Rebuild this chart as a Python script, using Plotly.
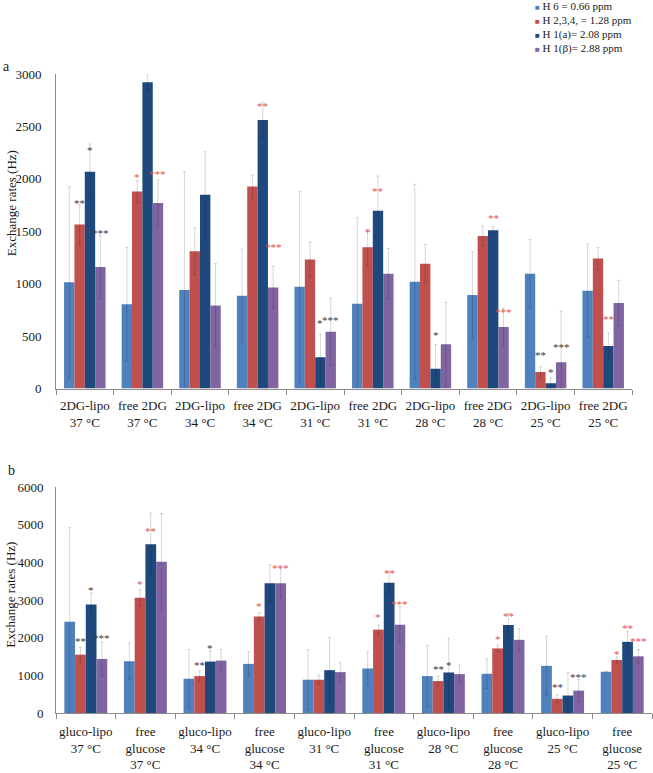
import plotly.graph_objects as go

# ---------------- data ----------------
series_names = ["H 6 = 0.66 ppm", "H 2,3,4, = 1.28 ppm", "H 1(a)= 2.08 ppm", "H 1(β)= 2.88 ppm"]
series_colors = ["#4F81BD", "#C0504D", "#1F497D", "#8064A2"]

cats_a = ["2DG-lipo<br>37 °C", "free 2DG<br>37 °C", "2DG-lipo<br>34 °C", "free 2DG<br>34 °C",
          "2DG-lipo<br>31 °C", "free 2DG<br>31 °C", "2DG-lipo<br>28 °C", "free 2DG<br>28 °C",
          "2DG-lipo<br>25 °C", "free 2DG<br>25 °C"]
h6_a = [1015, 805, 940, 886, 970, 808, 1018, 893, 1096, 933]
h6_a_err = [910, 540, 1130, 445, 910, 820, 930, 410, 325, 445]
h234_a = [1565, 1879, 1309, 1926, 1231, 1347, 1190, 1456, 157, 1240]
h234_a_err = [190, 105, 225, 110, 165, 170, 185, 95, 50, 105]
h1a_a = [2067, 2922, 1848, 2562, 298, 1697, 188, 1510, 50, 407]
h1a_a_err = [265, 80, 410, 165, 220, 330, 230, 40, 50, 125]
h1b_a = [1159, 1770, 792, 965, 542, 1096, 423, 586, 250, 817]
h1b_a_err = [300, 220, 400, 200, 320, 240, 400, 180, 490, 215]

cats_b = ["gluco-lipo<br>37 °C", "free<br>glucose<br>37 °C", "gluco-lipo<br>34 °C", "free<br>glucose<br>34 °C",
          "gluco-lipo<br>31 °C", "free<br>glucose<br>31 °C", "gluco-lipo<br>28 °C", "free<br>glucose<br>28 °C",
          "gluco-lipo<br>25 °C", "free<br>glucose<br>25 °C"]
h6_b = [2426, 1375, 911, 1305, 884, 1182, 981, 1042, 1252, 1095]
h6_b_err = [2500, 480, 770, 330, 800, 440, 820, 390, 790, 0]
h234_b = [1550, 3065, 981, 2566, 884, 2215, 849, 1716, 377, 1410]
h234_b_err = [200, 210, 140, 100, 120, 120, 130, 90, 100, 80]
h1a_b = [2881, 4483, 1366, 3450, 1138, 3459, 1077, 2338, 464, 1891]
h1a_b_err = [310, 830, 290, 490, 870, 290, 910, 310, 610, 270]
h1b_b = [1436, 4019, 1392, 3450, 1086, 2347, 1033, 1944, 595, 1506]
h1b_b_err = [450, 1280, 300, 380, 250, 480, 240, 290, 300, 180]

# significance marks: (group index, series index, text, colour key, y value)
stars_a = [
    (0, 1, "**", "k", 1801), (0, 2, "*", "k", 2302), (0, 3, "***", "k", 1509),
    (1, 1, "*", "r", 2051), (1, 2, "**", "r", 3138), (1, 3, "***", "r", 2073),
    (3, 2, "**", "r", 2725), (3, 3, "***", "r", 1378),
    (4, 2, "*", "k", 658), (4, 3, "***", "k", 683),
    (5, 1, "*", "r", 1519), (5, 2, "**", "r", 1910),
    (6, 2, "*", "k", 542),
    (7, 2, "**", "r", 1660), (7, 3, "***", "r", 761),
    (8, 1, "**", "k", 351), (8, 2, "*", "k", 188), (8, 3, "***", "k", 429),
    (9, 2, "**", "r", 695),
]
stars_b = [
    (0, 1, "**", "k", 1988), (0, 2, "*", "k", 3354), (0, 3, "***", "k", 2067),
    (1, 1, "*", "r", 3511), (1, 2, "**", "r", 4921),
    (2, 1, "**", "k", 1357), (2, 2, "*", "k", 1813),
    (3, 1, "*", "r", 2933), (3, 3, "***", "r", 3940),
    (5, 1, "*", "r", 2627), (5, 2, "**", "r", 3809), (5, 3, "***", "r", 2977),
    (6, 1, "**", "k", 1261), (6, 2, "*", "k", 1357),
    (7, 1, "*", "r", 2049), (7, 2, "**", "r", 2644),
    (8, 1, "**", "k", 762), (8, 3, "***", "k", 1025),
    (9, 1, "*", "r", 1637), (9, 2, "**", "r", 2347), (9, 3, "***", "r", 1988),
]
star_colors = {"k": "#3a3a3a", "r": "#E0504E"}

y_ticks_a = [0, 500, 1000, 1500, 2000, 2500, 3000]
y_ticks_b = [0, 1000, 2000, 3000, 4000, 5000, 6000]
y_title = "Exchange rates (Hz)"

# ---------------- figure ----------------
W, H = 653, 773
ML, MR, MT, MB = 56, 1, 74, 51
PW, PH = W - ML - MR, H - MT - MB


def px_x(px):
    return (px - ML) / PW


def px_y(py):
    return (H - MB - py) / PH


FONT = "Liberation Serif, Times New Roman, serif"
TXT = "#1a1a1a"
BARGAP = 0.28
BW = (1 - BARGAP) / 4

fig = go.Figure()
panel_a = [(h6_a, h6_a_err), (h234_a, h234_a_err), (h1a_a, h1a_a_err), (h1b_a, h1b_a_err)]
panel_b = [(h6_b, h6_b_err), (h234_b, h234_b_err), (h1a_b, h1a_b_err), (h1b_b, h1b_b_err)]
err_style = dict(type="data", color="rgba(0,0,0,0.16)", thickness=1, width=1.5, visible=True)

for panel, xa, ya, cats in [(panel_a, "x", "y", cats_a), (panel_b, "x2", "y2", cats_b)]:
    for k, (vals, errs) in enumerate(panel):
        fig.add_trace(go.Bar(
            x=list(range(len(cats))), y=vals, name=series_names[k],
            marker=dict(color=series_colors[k], line=dict(width=0)),
            error_y=dict(array=errs, **err_style),
            xaxis=xa, yaxis=ya, offsetgroup=str(k), showlegend=False,
        ))

annotations = []
for stars, xr, yr in [(stars_a, "x", "y"), (stars_b, "x2", "y2")]:
    for g, s, txt, ck, yv in stars:
        annotations.append(dict(
            x=g + (s - 1.5) * BW, y=yv, xref=xr, yref=yr, text=txt, showarrow=False,
            font=dict(family=FONT, size=11, color=star_colors[ck]),
            xanchor="center", yanchor="middle", yshift=-3,
        ))

# legend (top right)
leg_rows = [4.7, 19, 33.7, 48.5]
for k, name in enumerate(series_names):
    annotations.append(dict(
        x=px_x(533), y=px_y(leg_rows[k]), xref="paper", yref="paper",
        text=f'<span style="color:{series_colors[k]};font-size:8px">■</span> {name}',
        showarrow=False, xanchor="left", yanchor="middle",
        font=dict(family=FONT, size=11, color=TXT),
    ))

# y-axis titles
for yc in (205, 602):
    annotations.append(dict(x=px_x(11), y=px_y(yc), xref="paper", yref="paper", text=y_title,
                            textangle=-90, showarrow=False, xanchor="center", yanchor="middle",
                            font=dict(family=FONT, size=13, color=TXT)))

# panel letters
annotations.append(dict(x=px_x(1), y=px_y(66), xref="paper", yref="paper", text="a", showarrow=False,
                        xanchor="left", yanchor="middle", font=dict(family=FONT, size=14, color=TXT)))
annotations.append(dict(x=px_x(6), y=px_y(476), xref="paper", yref="paper", text="b", showarrow=False,
                        xanchor="left", yanchor="middle", font=dict(family=FONT, size=14, color=TXT)))

xcommon = dict(
    range=[-0.5, 9.5], showgrid=False, zeroline=False, showline=True, linecolor="#8c8c8c", linewidth=1,
    ticks="", tickfont=dict(family=FONT, size=13, color=TXT),
    minor=dict(tickvals=[i - 0.5 for i in range(11)], ticks="outside", ticklen=5, tickcolor="#8c8c8c", tickwidth=1),
)
ycommon = dict(
    showgrid=False, zeroline=False, showline=True, linecolor="#8c8c8c", linewidth=1, ticks="",
    tickfont=dict(family=FONT, size=13, color=TXT),
)

fig.update_layout(
    width=W, height=H, margin=dict(l=ML, r=MR, t=MT, b=MB),
    paper_bgcolor="white", plot_bgcolor="white",
    barmode="group", bargap=BARGAP, bargroupgap=0,
    showlegend=False,
    xaxis=dict(domain=[0, px_x(632)], anchor="y", tickvals=list(range(10)), ticktext=cats_a,
               ticklabelstandoff=5, **xcommon),
    yaxis=dict(domain=[px_y(393), px_y(74)], anchor="x", range=[0, 3000], tickvals=y_ticks_a,
               ticklabelstandoff=11, **ycommon),
    xaxis2=dict(domain=[0, px_x(652)], anchor="y2", tickvals=list(range(10)), ticktext=cats_b,
                ticklabelstandoff=6, **xcommon),
    yaxis2=dict(domain=[px_y(722), px_y(493)], anchor="x2", range=[0, 6000], tickvals=y_ticks_b,
                ticklabelstandoff=9, **ycommon),
    annotations=annotations,
)

fig.write_html("out.html", config={"displayModeBar": False},
               post_script="document.body.style.margin='0px';")
